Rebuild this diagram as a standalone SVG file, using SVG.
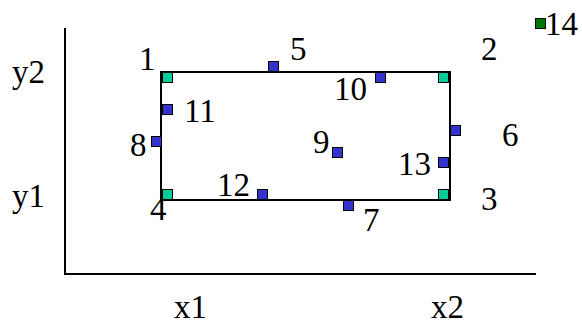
<svg xmlns="http://www.w3.org/2000/svg" width="582" height="326" viewBox="0 0 582 326">
<style>
text{font-family:'Liberation Serif','Times New Roman',Times,serif;font-size:33px;fill:#000}
.ln{stroke:#000;stroke-width:2;fill:none}
.b{fill:#3333cc;stroke:#000;stroke-width:1}
.g{fill:#00cc99;stroke:#000;stroke-width:1}
.d{fill:#007700;stroke:#000;stroke-width:1}
</style>
<rect width="582" height="326" fill="#fff"/>
<g id="connectors">
<polyline class="ln" points="65,28 65,274 536,274"/>
<rect class="ln" x="161" y="72" width="289" height="128"/>
</g>
<g id="axis-labels">
<text x="12" y="83">y2</text>
<text x="12" y="207">y1</text>
<text x="174" y="318">x1</text>
<text x="431" y="318">x2</text>
</g>
<g id="p1"><rect class="g" x="162.5" y="72.5" width="10" height="10"/><text x="139" y="70">1</text></g>
<g id="p2"><rect class="g" x="438.5" y="72.5" width="10" height="10"/><text x="481" y="60">2</text></g>
<g id="p3"><rect class="g" x="438.5" y="189.5" width="10" height="10"/><text x="481" y="210">3</text></g>
<g id="p4"><rect class="g" x="162.5" y="189.5" width="10" height="10"/><text x="150" y="220">4</text></g>
<g id="p5"><rect class="b" x="268.5" y="61.5" width="10" height="10"/><text x="290" y="60">5</text></g>
<g id="p6"><rect class="b" x="450.5" y="125.5" width="10" height="10"/><text x="502" y="146">6</text></g>
<g id="p7"><rect class="b" x="343.5" y="200.5" width="10" height="10"/><text x="363" y="231">7</text></g>
<g id="p8"><rect class="b" x="151.5" y="136.5" width="10" height="10"/><text x="130" y="156">8</text></g>
<g id="p9"><rect class="b" x="332.5" y="147.5" width="10" height="10"/><text x="313" y="153">9</text></g>
<g id="p10"><rect class="b" x="375.5" y="72.5" width="10" height="10"/><text x="334" y="100">10</text></g>
<g id="p11"><rect class="b" x="162.5" y="104.5" width="10" height="10"/><text x="184" y="122">11</text></g>
<g id="p12"><rect class="b" x="257.5" y="189.5" width="10" height="10"/><text x="217" y="196">12</text></g>
<g id="p13"><rect class="b" x="438.5" y="157.5" width="10" height="10"/><text x="398" y="175">13</text></g>
<g id="p14"><rect class="d" x="535.5" y="18.5" width="10" height="10"/><text x="545" y="35">14</text></g>
</svg>
